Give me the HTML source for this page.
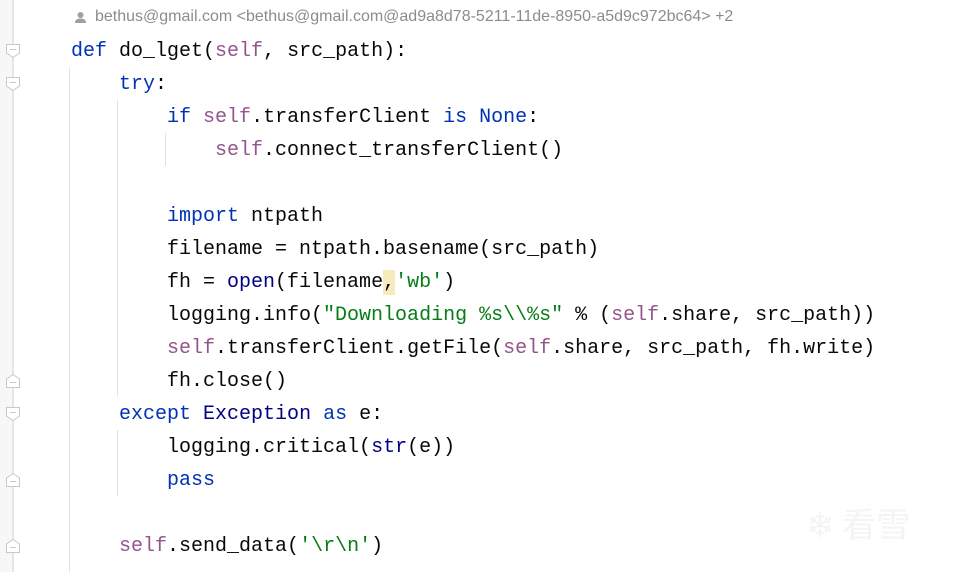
<!DOCTYPE html>
<html><head><meta charset="utf-8"><style>
body{margin:0;width:965px;height:572px;background:#fff;position:relative;overflow:hidden;font-family:"Liberation Mono",monospace;}
.l{position:absolute;left:71px;font-size:20px;line-height:33px;height:33px;white-space:pre;color:#080808;}
.k{color:#0033b3}.s{color:#94558d}.g{color:#067d17}.c{color:#000080}
.gut{position:absolute;left:0;top:0;width:12px;height:572px;background:#f7f7f7}
.gl{position:absolute;left:12px;top:0;width:2px;height:572px;background:#e6e6e6}
.ig{position:absolute;width:1px;background:#e3e3e3}
.fm{position:absolute;left:5px;width:16px;height:16px}
</style></head><body>
<div class="gut"></div><div class="gl"></div>
<svg style="position:absolute;left:74px;top:11px" width="13" height="13" viewBox="0 0 13 13"><circle cx="6.5" cy="4" r="3" fill="#a0a0a0"/><path d="M1 12C1 8.5 3.5 7.5 6.5 7.5S12 8.5 12 12Z" fill="#a0a0a0"/></svg>
<div style="position:absolute;left:95px;top:8px;font-family:'Liberation Sans',sans-serif;font-size:16px;color:#8c8c8c;white-space:pre">bethus@gmail.com &lt;bethus@gmail.com@ad9a8d78-5211-11de-8950-a5d9c972bc64&gt; +2</div>
<div class="ig" style="left:69px;top:67px;height:505px"></div>
<div class="ig" style="left:117px;top:100px;height:297px"></div>
<div class="ig" style="left:117px;top:430px;height:66px"></div>
<div class="ig" style="left:165px;top:133px;height:33px"></div>
<svg class="fm" style="top:43px" viewBox="0 0 16 16"><path d="M1.5 1.5H14.5V10L8 14.5L1.5 10Z" fill="#fff" stroke="#c8c8c8"/><path d="M5 6.5H11" stroke="#c8c8c8"/></svg>
<svg class="fm" style="top:76px" viewBox="0 0 16 16"><path d="M1.5 1.5H14.5V10L8 14.5L1.5 10Z" fill="#fff" stroke="#c8c8c8"/><path d="M5 6.5H11" stroke="#c8c8c8"/></svg>
<svg class="fm" style="top:373px" viewBox="0 0 16 16"><path d="M1.5 14.5H14.5V6L8 1.5L1.5 6Z" fill="#fff" stroke="#c8c8c8"/><path d="M5 9.5H11" stroke="#c8c8c8"/></svg>
<svg class="fm" style="top:406px" viewBox="0 0 16 16"><path d="M1.5 1.5H14.5V10L8 14.5L1.5 10Z" fill="#fff" stroke="#c8c8c8"/><path d="M5 6.5H11" stroke="#c8c8c8"/></svg>
<svg class="fm" style="top:472px" viewBox="0 0 16 16"><path d="M1.5 14.5H14.5V6L8 1.5L1.5 6Z" fill="#fff" stroke="#c8c8c8"/><path d="M5 9.5H11" stroke="#c8c8c8"/></svg>
<svg class="fm" style="top:538px" viewBox="0 0 16 16"><path d="M1.5 14.5H14.5V6L8 1.5L1.5 6Z" fill="#fff" stroke="#c8c8c8"/><path d="M5 9.5H11" stroke="#c8c8c8"/></svg>
<div style="position:absolute;left:383px;top:270px;width:12px;height:25px;background:#f6ebbc"></div>
<div class="l" style="top:35px"><span class="k">def</span> do_lget(<span class="s">self</span>, src_path):</div>
<div class="l" style="top:68px">    <span class="k">try</span>:</div>
<div class="l" style="top:101px">        <span class="k">if</span> <span class="s">self</span>.transferClient <span class="k">is</span> <span class="k">None</span>:</div>
<div class="l" style="top:134px">            <span class="s">self</span>.connect_transferClient()</div>
<div class="l" style="top:200px">        <span class="k">import</span> ntpath</div>
<div class="l" style="top:233px">        filename = ntpath.basename(src_path)</div>
<div class="l" style="top:266px">        fh = <span class="c">open</span>(filename,<span class="g">'wb'</span>)</div>
<div class="l" style="top:299px">        logging.info(<span class="g">"Downloading %s\\%s"</span> % (<span class="s">self</span>.share, src_path))</div>
<div class="l" style="top:332px">        <span class="s">self</span>.transferClient.getFile(<span class="s">self</span>.share, src_path, fh.write)</div>
<div class="l" style="top:365px">        fh.close()</div>
<div class="l" style="top:398px">    <span class="k">except</span> <span class="c">Exception</span> <span class="k">as</span> e:</div>
<div class="l" style="top:431px">        logging.critical(<span class="c">str</span>(e))</div>
<div class="l" style="top:464px">        <span class="k">pass</span></div>
<div class="l" style="top:530px">    <span class="s">self</span>.send_data(<span class="g">'\r\n'</span>)</div>
<div style="position:absolute;left:806px;top:498px;font-family:'Noto Sans CJK SC',sans-serif;font-size:34px;color:#f4f4f4;white-space:pre">❄ 看雪</div>
</body></html>
